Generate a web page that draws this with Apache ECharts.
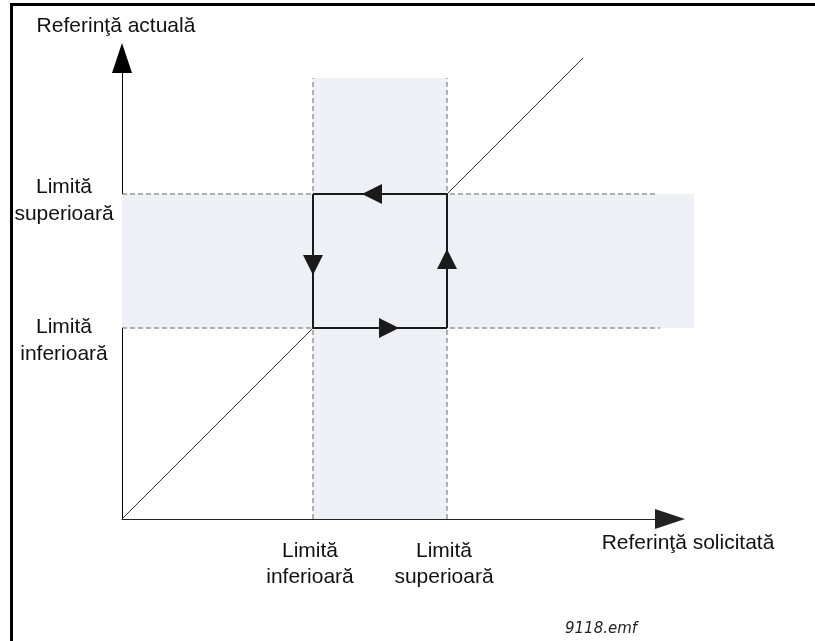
<!DOCTYPE html>
<html>
<head>
<meta charset="utf-8">
<script src="https://cdn.jsdelivr.net/npm/echarts@6/dist/echarts.min.js"></script>
<style>
  html, body { margin: 0; padding: 0; background: #fff; }
  #chart { width: 815px; height: 641px; }
</style>
</head>
<body>
<div id="chart"></div>
<script>
// valorile sunt in unitati de axa (origine in coltul din stanga jos)
const limits = [191, 325];                 // limita inferioara, limita superioara
const limitNames = ['Limită\ninferioară', 'Limită\nsuperioară'];
const yLabelAt = [178, 318];               // unde stau etichetele de pe axa y
const axisMax = [548, 461];                // x, y
const diagonalEnd = 461;
const vBandTop = 441;                      // banda verticala
const hBandRight = 572;                    // banda orizontala
const dashEnds = [538, 533];               // capetele liniilor punctate orizontale
const arrowAt = [[250, 325], [191, 254], [267, 191], [325, 260]]; // sagetile buclei

const loLim = limits[0], hiLim = limits[1];

// bucla de histerezis: segmente cu sageata la capat + restul segmentului
const loopArrowSegs = [
  [[hiLim, hiLim], arrowAt[0]],
  [[loLim, hiLim], arrowAt[1]],
  [[loLim, loLim], arrowAt[2]],
  [[hiLim, loLim], arrowAt[3]]
];
const loopRestSegs = [
  [arrowAt[0], [loLim, hiLim]],
  [arrowAt[1], [loLim, loLim]],
  [arrowAt[2], [hiLim, loLim]],
  [arrowAt[3], [hiLim, hiLim]]
];

const font = 'Liberation Sans, Arial, sans-serif';

function dashed(data) {
  return {
    type: 'line', data: data, symbol: 'none', silent: true, clip: false,
    lineStyle: { color: '#666', width: 1, type: [5, 3] }, z: 3
  };
}

const chart = echarts.init(document.getElementById('chart'));
chart.setOption({
  animation: false,
  grid: { left: 122, right: 815 - 122 - axisMax[0], top: 58, bottom: 122 },
  xAxis: {
    type: 'value', min: 0, max: axisMax[0],
    splitLine: { show: false },
    axisTick: { show: false },
    axisLine: {
      onZero: false,
      symbol: ['none', 'triangle'], symbolSize: [20, 30],
      lineStyle: { color: '#222', width: 1 }
    },
    axisLabel: {
      customValues: limits,
      formatter: function (v) { return limitNames[limits.indexOf(v)]; },
      margin: 19, color: '#111', fontFamily: font, fontSize: 21, lineHeight: 26,
      align: 'center', verticalAlign: 'top', padding: [0, 6, 0, 0]
    },
    name: 'Referinţă solicitată',
    nameLocation: 'end', nameGap: 18,
    nameTextStyle: {
      color: '#111', fontFamily: font, fontSize: 21,
      align: 'center', verticalAlign: 'top', padding: [14, 0, 0, 0]
    }
  },
  yAxis: {
    type: 'value', min: 0, max: axisMax[1],
    splitLine: { show: false },
    axisTick: { show: false },
    axisLine: {
      onZero: false,
      symbol: ['none', 'triangle'], symbolSize: [20, 30],
      lineStyle: { color: '#000', width: 1 }
    },
    axisLabel: {
      customValues: yLabelAt,
      formatter: function (v) { return limitNames[yLabelAt.indexOf(v)]; },
      margin: 58, color: '#111', fontFamily: font, fontSize: 21, lineHeight: 27,
      align: 'center', verticalAlign: 'middle'
    },
    name: 'Referinţă actuală',
    nameLocation: 'end', nameGap: 32,
    nameTextStyle: {
      color: '#111', fontFamily: font, fontSize: 21,
      align: 'center', verticalAlign: 'middle', padding: [0, 12, 0, 0]
    }
  },
  graphic: [
    { type: 'line', shape: { x1: 11.5, y1: 3, x2: 11.5, y2: 641 }, style: { stroke: '#000', lineWidth: 3 } },
    { type: 'line', shape: { x1: 10, y1: 4.5, x2: 815, y2: 4.5 }, style: { stroke: '#000', lineWidth: 3 } },
    {
      type: 'text', left: 565, top: 622,
      style: { text: '9118.emf', font: 'italic 15px DejaVu Sans, sans-serif', fill: '#222' }
    }
  ],
  series: [
    {
      // benzile umbrite
      type: 'custom', clip: false, silent: true, z: 1,
      data: [
        [loLim, 0, hiLim, vBandTop],
        [0, loLim, hBandRight, hiLim]
      ],
      renderItem: function (params, api) {
        const p1 = api.coord([api.value(0), api.value(1)]);
        const p2 = api.coord([api.value(2), api.value(3)]);
        return {
          type: 'rect',
          shape: { x: p1[0], y: p2[1], width: p2[0] - p1[0], height: p1[1] - p2[1] },
          style: { fill: '#edf0f5' }
        };
      }
    },
    dashed([[0, hiLim], [dashEnds[1], hiLim]]),
    dashed([[0, loLim], [dashEnds[0], loLim]]),
    dashed([[loLim, 0], [loLim, vBandTop]]),
    dashed([[hiLim, 0], [hiLim, vBandTop]]),
    {
      // diagonala
      type: 'lines', coordinateSystem: 'cartesian2d', silent: true, clip: false,
      lineStyle: { color: '#333', width: 1, opacity: 1 },
      data: [
        { coords: [[0, 0], [loLim, loLim]] },
        { coords: [[hiLim, hiLim], [diagonalEnd, diagonalEnd]] }
      ],
      z: 4
    },
    {
      type: 'lines', coordinateSystem: 'cartesian2d', silent: true, clip: false,
      lineStyle: { color: '#1a1a1a', width: 2, opacity: 1 },
      data: loopRestSegs.map(function (s) { return { coords: s }; }),
      z: 5
    },
    {
      type: 'lines', coordinateSystem: 'cartesian2d', silent: true, clip: false,
      symbol: ['none', 'triangle'], symbolSize: 20,
      lineStyle: { color: '#1a1a1a', width: 2, opacity: 1 },
      itemStyle: { color: '#000' },
      data: loopArrowSegs.map(function (s) { return { coords: s }; }),
      z: 6
    }
  ]
});
</script>
</body>
</html>
